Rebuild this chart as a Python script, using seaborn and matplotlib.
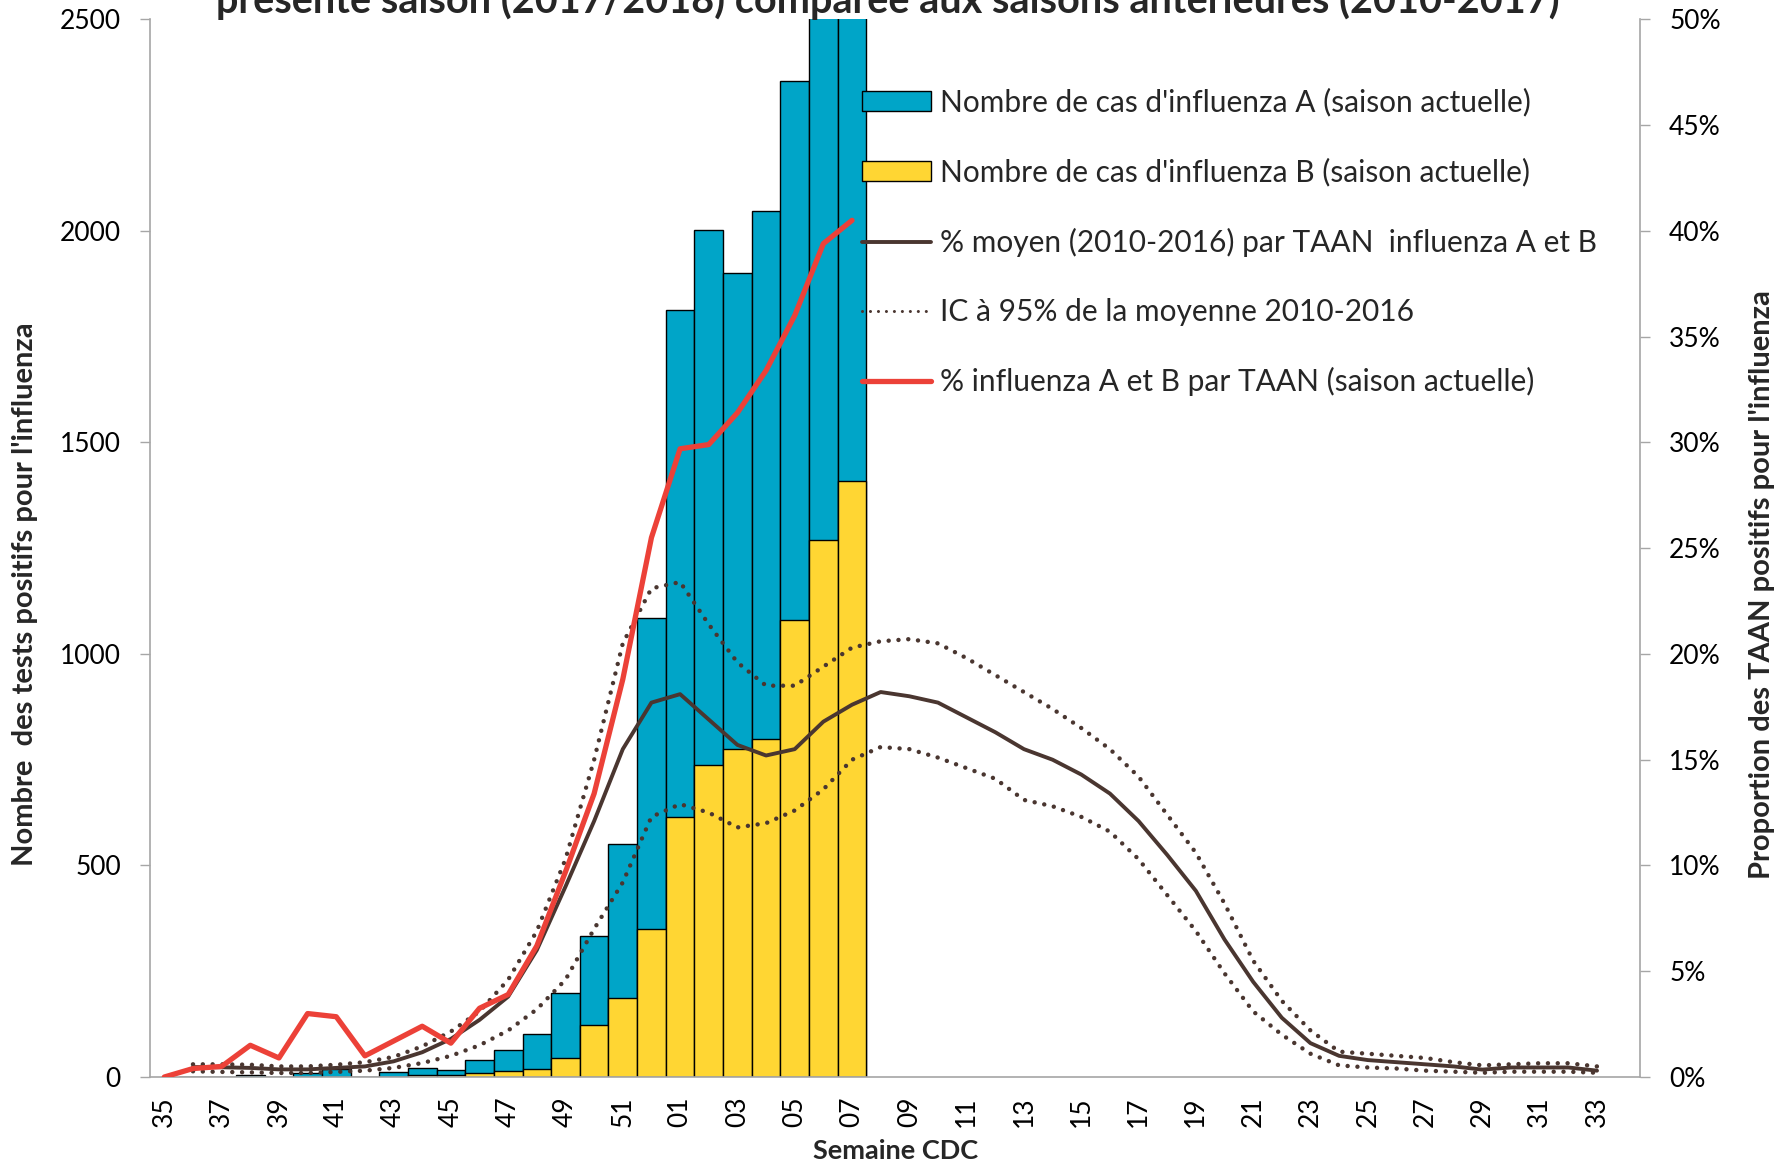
import numpy as np
import pandas as pd
import matplotlib
matplotlib.use("Agg")
import matplotlib.pyplot as plt
import seaborn as sns
from matplotlib.patches import Patch
from matplotlib.lines import Line2D
from matplotlib.ticker import FuncFormatter, MultipleLocator

# ---------------- data ----------------
weeks = ["35", "36", "37", "38", "39", "40", "41", "42", "43", "44", "45", "46",
         "47", "48", "49", "50", "51", "52", "01", "02", "03", "04", "05", "06",
         "07", "08", "09", "10", "11", "12", "13", "14", "15", "16", "17", "18",
         "19", "20", "21", "22", "23", "24", "25", "26", "27", "28", "29", "30",
         "31", "32", "33", "34"]

# current season (weeks 35 .. 07)
season_weeks = weeks[:25]
cases_total = [np.nan, 0, 0, 4, 0, 10, 19, 0, 12, 21, 17, 41, 63, 102, 198, 334,
               550, 1086, 1814, 2003, 1900, 2046, 2354, 2650, 2700]   # A + B
cases_b = [np.nan, 0, 0, 0, 0, 0, 0, 0, 0, 4, 4, 9, 15, 20, 44, 123, 186, 351,
           614, 738, 776, 800, 1081, 1270, 1408]
pct_current = [0.0, 0.4, 0.5, 1.5, 0.9, 3.0, 2.85, 1.0, 1.7, 2.4, 1.6, 3.25, 3.9,
               6.2, 9.7, 13.4, 18.8, 25.5, 29.7, 29.9, 31.4, 33.4, 36.0, 39.4, 40.5]

# historical (weeks 36 .. 33)
hist_weeks = weeks[1:51]
pct_mean = [0.47, 0.46, 0.43, 0.36, 0.36, 0.43, 0.5, 0.74, 1.17, 1.8, 2.7, 3.8,
            6.0, 9.0, 12.1, 15.5, 17.7, 18.1, 16.9, 15.7, 15.2, 15.5, 16.8, 17.6,
            18.2, 18.0, 17.7, 17.0, 16.3, 15.5, 15.0, 14.3, 13.4, 12.1, 10.5, 8.8,
            6.5, 4.5, 2.8, 1.6, 1.0, 0.8, 0.7, 0.6, 0.5, 0.35, 0.45, 0.45, 0.45, 0.3]
ci_upper = [0.6, 0.6, 0.58, 0.5, 0.5, 0.58, 0.7, 0.95, 1.45, 2.15, 3.1, 4.6,
            6.9, 10.3, 15.0, 20.5, 23.1, 23.4, 21.4, 19.6, 18.5, 18.5, 19.4, 20.3,
            20.6, 20.7, 20.5, 19.8, 19.0, 18.2, 17.4, 16.5, 15.5, 14.2, 12.4, 10.6,
            8.2, 5.5, 3.6, 2.2, 1.2, 1.1, 1.0, 0.9, 0.7, 0.55, 0.6, 0.65, 0.65, 0.5]
ci_lower = [0.27, 0.24, 0.22, 0.19, 0.19, 0.24, 0.3, 0.43, 0.66, 1.0, 1.5, 2.2,
            3.2, 4.6, 7.0, 9.2, 12.3, 12.9, 12.5, 11.8, 12.0, 12.6, 13.6, 15.0,
            15.6, 15.5, 15.1, 14.6, 14.1, 13.1, 12.8, 12.3, 11.6, 10.3, 8.6, 6.9,
            4.9, 3.1, 2.0, 1.1, 0.55, 0.45, 0.4, 0.3, 0.25, 0.2, 0.25, 0.25, 0.25, 0.2]

title = "présente saison (2017/2018) comparée aux saisons antérieures (2010-2017)"
label_a = "Nombre de cas d'influenza A (saison actuelle)"
label_b = "Nombre de cas d'influenza B (saison actuelle)"
label_mean = "% moyen (2010-2016) par TAAN  influenza A et B"
label_ci = "IC à 95% de la moyenne 2010-2016"
label_cur = "% influenza A et B par TAAN (saison actuelle)"

# ---------------- style ----------------
BLUE = "#00A5C8"
YELLOW = "#FFD633"
RED = "#EC4138"
BROWN = "#4A3630"
GRAY = "#A6A6A6"

sns.set_theme(style="white")
plt.rcParams["font.family"] = ["Lato", "DejaVu Sans"]

FS = 19
LEG_FS = 21.5
DOTS = (0, (0.01, 2.2))
DOTS_LEG = (0, (0.01, 2.6))

fig = plt.figure(figsize=(17.92, 11.68), dpi=100)
L, R, B, T = 150 / 1792, 1640 / 1792, (1168 - 1077) / 1168, (1168 - 19.4) / 1168
ax = fig.add_axes([L, B, R - L, T - B])

df_bars = pd.DataFrame({"week": season_weeks, "total": cases_total, "b": cases_b})

sns.barplot(data=df_bars, x="week", y="total", order=weeks, color=BLUE,
            saturation=1, width=1.0, edgecolor="black", linewidth=1.0, ax=ax)
sns.barplot(data=df_bars, x="week", y="b", order=weeks, color=YELLOW,
            saturation=1, width=1.0, edgecolor="black", linewidth=1.0, ax=ax)

ax.set_xlim(-0.5, len(weeks) - 0.5)
ax.set_ylim(0, 2500)
ax.yaxis.set_major_locator(MultipleLocator(500))
ax.set_xticks(np.arange(0, len(weeks), 2))
ax.set_xticklabels(weeks[::2], rotation=90)
ax.set_xticks(np.arange(-0.5, len(weeks), 1), minor=True)
ax.tick_params(axis="x", which="major", length=0, pad=14, labelsize=FS, colors="black")
ax.tick_params(axis="x", which="minor", length=6, width=1, color=GRAY, direction="out")
ax.tick_params(axis="y", length=7, width=1, color=GRAY, direction="out",
               pad=14, labelsize=FS, labelcolor="black", left=True)
ax.set_xlabel("")
ax.set_ylabel("")
for s in ["top", "right"]:
    ax.spines[s].set_visible(False)
for s in ["left", "bottom"]:
    ax.spines[s].set_color(GRAY)
    ax.spines[s].set_linewidth(1.2)
ax.grid(False)

# ---------------- lines on the right axis ----------------
ax2 = ax.twinx()
pos_cur = [weeks.index(w) for w in season_weeks]
pos_hist = [weeks.index(w) for w in hist_weeks]

df_hist = pd.DataFrame({"pos": pos_hist, "mean": pct_mean, "up": ci_upper, "lo": ci_lower})
df_cur = pd.DataFrame({"pos": pos_cur, "pct": pct_current})

sns.lineplot(data=df_hist, x="pos", y="up", ax=ax2, color=BROWN, lw=3.2,
             linestyle=DOTS, estimator=None, sort=False, dash_capstyle="round")
sns.lineplot(data=df_hist, x="pos", y="lo", ax=ax2, color=BROWN, lw=3.2,
             linestyle=DOTS, estimator=None, sort=False, dash_capstyle="round")
sns.lineplot(data=df_hist, x="pos", y="mean", ax=ax2, color=BROWN, lw=2.8,
             estimator=None, sort=False)
sns.lineplot(data=df_cur, x="pos", y="pct", ax=ax2, color=RED, lw=3.8,
             estimator=None, sort=False)

ax2.set_xlim(-0.5, len(weeks) - 0.5)
ax2.set_ylim(0, 50)
ax2.yaxis.set_major_locator(MultipleLocator(5))
ax2.yaxis.set_major_formatter(FuncFormatter(lambda v, p: f"{v:.0f}%"))
ax2.tick_params(axis="y", length=7, width=1, color=GRAY, direction="out",
                pad=14, labelsize=FS, labelcolor="black", right=True)
ax2.set_xlabel("")
ax2.set_ylabel("")
for s in ["top", "left", "bottom"]:
    ax2.spines[s].set_visible(False)
ax2.spines["right"].set_color(GRAY)
ax2.spines["right"].set_linewidth(1.2)
ax2.grid(False)

# ---------------- legend ----------------
handles = [
    Patch(facecolor=BLUE, edgecolor="black", linewidth=1.0),
    Patch(facecolor=YELLOW, edgecolor="black", linewidth=1.0),
    Line2D([0], [0], color=BROWN, lw=2.8),
    Line2D([0], [0], color=BROWN, lw=2.2, linestyle=DOTS_LEG, dash_capstyle="round"),
    Line2D([0], [0], color=RED, lw=3.8),
]
labels = [label_a, label_b, label_mean, label_ci, label_cur]
fig.legend(handles, labels, loc="upper left",
           bbox_to_anchor=(862 / 1792, 1 - 88 / 1168),
           frameon=False, fontsize=LEG_FS, handlelength=2.3, handleheight=0.62,
           handletextpad=0.3, labelspacing=1.38, borderpad=0, borderaxespad=0)

# ---------------- texts ----------------
fig.text(888 / 1792, 1 - 13 / 1168, title, ha="center", va="baseline",
         fontsize=28.5, fontweight="bold")
fig.text(25 / 1792, 1 - 594 / 1168, "Nombre  des tests positifs pour l'influenza",
         rotation=90, ha="center", va="center", fontsize=21, fontweight="bold")
fig.text(1762 / 1792, 1 - 585 / 1168, "Proportion des TAAN positifs pour l'influenza",
         rotation=90, ha="center", va="center", fontsize=21, fontweight="bold")
fig.text(896 / 1792, 1 - 1151 / 1168, "Semaine CDC", ha="center", va="center",
         fontsize=19.5, fontweight="bold")

fig.savefig("out.png", dpi=100)
